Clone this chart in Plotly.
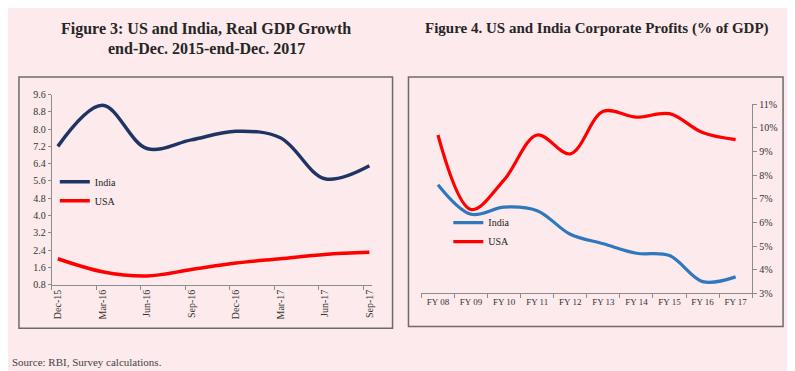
import plotly.graph_objects as go

W, H = 795, 371
BG = "#FCEAEC"
SERIF = "Liberation Serif, Times New Roman, serif"

# ---- Figure 3 data ----
quarters = ["Dec-15", "Mar-16", "Jun-16", "Sep-16", "Dec-16", "Mar-17", "Jun-17", "Sep-17"]
india_gdp = [7.2, 9.1, 7.1, 7.5, 7.9, 7.6, 5.7, 6.3]
usa_gdp = [2.0, 1.4, 1.2, 1.5, 1.8, 2.0, 2.2, 2.3]
gdp_ticks = [0.8, 1.6, 2.4, 3.2, 4.0, 4.8, 5.6, 6.4, 7.2, 8.0, 8.8, 9.6]

# ---- Figure 4 data ----
years = ["FY 08", "FY 09", "FY 10", "FY 11", "FY 12", "FY 13", "FY 14", "FY 15", "FY 16", "FY 17"]
india_prof = [7.6, 6.35, 6.65, 6.5, 5.5, 5.1, 4.7, 4.6, 3.5, 3.7]
usa_prof = [9.7, 6.55, 7.8, 9.7, 8.9, 10.7, 10.45, 10.6, 9.8, 9.5]
prof_ticks = [3, 4, 5, 6, 7, 8, 9, 10, 11]

def px(x):
    return x / W

def py(y):
    return (H - y) / H

xi1 = list(range(len(quarters)))
xi2 = list(range(len(years)))

fig = go.Figure()
fig.add_trace(go.Scatter(x=xi1, y=india_gdp, name="India", mode="lines",
                         line=dict(color="#1F3464", width=3.5, shape="spline", smoothing=1),
                         xaxis="x", yaxis="y", legend="legend"))
fig.add_trace(go.Scatter(x=xi1, y=usa_gdp, name="USA", mode="lines",
                         line=dict(color="#FF0000", width=3.5, shape="spline", smoothing=1),
                         xaxis="x", yaxis="y", legend="legend"))
fig.add_trace(go.Scatter(x=xi2, y=india_prof, name="India", mode="lines",
                         line=dict(color="#2F78BD", width=3.2, shape="spline", smoothing=1),
                         xaxis="x2", yaxis="y2", legend="legend2"))
fig.add_trace(go.Scatter(x=xi2, y=usa_prof, name="USA", mode="lines",
                         line=dict(color="#FF0000", width=3.2, shape="spline", smoothing=1),
                         xaxis="x2", yaxis="y2", legend="legend2"))

axcol = "#8C8C8C"
tickfont = dict(family=SERIF, size=10, color="#333333")

fig.update_layout(
    width=W, height=H,
    margin=dict(l=0, r=0, t=0, b=0),
    paper_bgcolor=BG, plot_bgcolor=BG,
    xaxis=dict(domain=[px(44), px(365)], range=[-0.135, 7.05],
               tickmode="array", tickvals=xi1, ticktext=quarters, tickangle=-90,
               ticks="", showgrid=False, zeroline=False, showline=True,
               linecolor=axcol, linewidth=1, tickfont=tickfont, fixedrange=True,
               minor=dict(tickmode="array", tickvals=[i - 0.135 for i in xi1],
                          ticks="outside", ticklen=4, tickcolor=axcol, showgrid=False)),
    yaxis=dict(domain=[py(280), py(84)], range=[0.8, 9.6],
               tickmode="array", tickvals=gdp_ticks,
               ticktext=[f"{v:.1f}" for v in gdp_ticks],
               ticks="outside", ticklen=3, tickcolor=axcol,
               showgrid=False, zeroline=False, showline=True,
               linecolor=axcol, linewidth=1, tickfont=tickfont, anchor="x"),
    xaxis2=dict(domain=[px(415), px(747)], range=[-0.5, 9.5],
                tickmode="array", tickvals=xi2, ticktext=years,
                ticks="", showgrid=False, zeroline=False, showline=True,
                linecolor=axcol, linewidth=1,
                tickfont=dict(family=SERIF, size=9, color="#333333"),
                anchor="y2",
                minor=dict(tickmode="array", tickvals=[i - 0.5 for i in range(len(years) + 1)],
                           ticks="outside", ticklen=4, tickcolor=axcol, showgrid=False)),
    yaxis2=dict(domain=[py(289), py(94)], range=[3, 11], side="right",
                tickmode="array", tickvals=prof_ticks,
                ticktext=[f"{v}%" for v in prof_ticks],
                ticks="outside", ticklen=4, tickcolor=axcol,
                showgrid=False, zeroline=False, showline=True,
                linecolor=axcol, linewidth=1, tickfont=tickfont, anchor="x2"),
    legend=dict(x=px(47), y=py(159), xanchor="left", yanchor="top",
                bgcolor="rgba(0,0,0,0)", borderwidth=0,
                font=dict(family=SERIF, size=10, color="#222222"),
                tracegroupgap=0),
    legend2=dict(x=px(442), y=py(201), xanchor="left", yanchor="top",
                 bgcolor="rgba(0,0,0,0)", borderwidth=0,
                 font=dict(family=SERIF, size=10, color="#222222"),
                 tracegroupgap=0),
    showlegend=True,
)

# frames around the two panels
fig.add_shape(type="rect", xref="paper", yref="paper",
              x0=px(11), x1=px(386), y0=py(325), y1=py(66),
              line=dict(color="#6F6A6A", width=1.5), layer="below")
fig.add_shape(type="rect", xref="paper", yref="paper",
              x0=px(402), x1=px(778), y0=py(323), y1=py(66),
              line=dict(color="#6F6A6A", width=1.5), layer="below")

fig.add_annotation(text="<b>Figure 3: US and India, Real GDP Growth</b>", xref="paper", yref="paper",
                   x=px(199), y=py(16), xanchor="center", yanchor="middle",
                   showarrow=False, font=dict(family=SERIF, size=16, color="#262626"))
fig.add_annotation(text="<b>end-Dec. 2015-end-Dec. 2017</b>", xref="paper", yref="paper",
                   x=px(199), y=py(37), xanchor="center", yanchor="middle",
                   showarrow=False, font=dict(family=SERIF, size=16, color="#262626"))
fig.add_annotation(text="<b>Figure 4. US and India Corporate Profits (% of GDP)</b>", xref="paper", yref="paper",
                   x=px(591), y=py(16), xanchor="center", yanchor="middle",
                   showarrow=False, font=dict(family=SERIF, size=15, color="#262626"))
fig.add_annotation(text="Source: RBI, Survey calculations.", xref="paper", yref="paper",
                   x=px(2), y=py(360), xanchor="left", yanchor="middle",
                   showarrow=False, font=dict(family=SERIF, size=11, color="#444444"))

fig.write_html("out.html")
